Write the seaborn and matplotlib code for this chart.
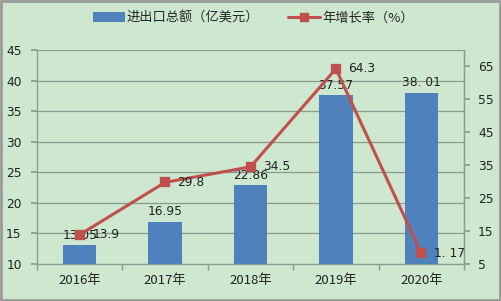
import matplotlib
matplotlib.use("Agg")
import matplotlib.pyplot as plt
import seaborn as sns
import pandas as pd
from matplotlib.patches import Rectangle
from matplotlib.lines import Line2D
from matplotlib.patches import Patch

years = ["2016年", "2017年", "2018年", "2019年", "2020年"]
trade_total = [13.05, 16.95, 22.86, 37.57, 38.01]
trade_labels = ["13.05", "16.95", "22.86", "37.57", "38. 01"]
growth_rate = [13.9, 29.8, 34.5, 64.3, 8.3]
growth_labels = ["13.9", "29.8", "34.5", "64.3", "1. 17"]
bar_name = "进出口总额（亿美元）"
line_name = "年增长率（%）"

BG = "#CDE8CF"
BLUE = "#4F81BD"
RED = "#C0504D"
GRID = "#8C9A8E"
TXT = "#222222"
FS = 8.8

sns.set_theme(style="white")
plt.rcParams["font.family"] = ["DejaVu Sans", "Noto Sans CJK SC"]

df = pd.DataFrame({"year": years, "total": trade_total, "rate": growth_rate})

fig = plt.figure(figsize=(5.02, 3.01), dpi=100)
fig.patch.set_facecolor(BG)
ax = fig.add_axes([37/502, 37/301, 427/502, 214/301])
ax.set_facecolor(BG)

sns.barplot(data=df, x="year", y="total", color=BLUE, width=0.39,
            saturation=1, ax=ax, zorder=3, edgecolor="none", linewidth=0)
ax.set_ylim(10, 45)
ax.set_yticks(range(10, 46, 5))
ax.yaxis.grid(True, color=GRID, lw=0.9)
ax.set_axisbelow(True)
ax.set_xlabel("")
ax.set_ylabel("")
ax.spines["top"].set_visible(False)
for s in ["left", "bottom", "right"]:
    ax.spines[s].set_color(GRID)
    ax.spines[s].set_linewidth(0.9)
ax.tick_params(axis="y", length=4, color=GRID, labelsize=FS, labelcolor=TXT, pad=7, left=True)
ax.tick_params(axis="x", length=0, labelsize=9.5, labelcolor=TXT, pad=7)
ax.set_xticks(range(len(years)))
ax.set_xticklabels(years, fontfamily=["Noto Sans CJK SC"])
ax.set_xticks([i + 0.5 for i in range(-1, len(years))], minor=True)
ax.tick_params(axis="x", which="minor", length=4, color=GRID, bottom=True)
ax.set_xlim(-0.5, len(years) - 0.5)

for i, (v, lab) in enumerate(zip(trade_total, trade_labels)):
    ax.text(i, v + 0.6, lab, ha="center", va="bottom", fontsize=FS, color=TXT, zorder=6)

ax2 = ax.twinx()
ax2.set_position(ax.get_position())
sns.pointplot(data=df, x="year", y="rate", color=RED, markers="s", markersize=6,
              linewidth=2.2, ax=ax2, zorder=5)
ax2.set_ylim(5, 70)
ax2.set_yticks(range(5, 66, 10))
ax2.set_xlim(-0.5, len(years) - 0.5)
ax2.set_ylabel("")
ax2.set_xlabel("")
for s in ["top", "left", "bottom"]:
    ax2.spines[s].set_visible(False)
ax2.spines["right"].set_color(GRID)
ax2.spines["right"].set_linewidth(0.9)
ax2.tick_params(axis="y", length=4, color=GRID, labelsize=FS, labelcolor=TXT, pad=6, right=True)
ax2.grid(False)

for i, (v, lab) in enumerate(zip(growth_rate, growth_labels)):
    ax2.annotate(lab, (i, v), xytext=(9, 0), textcoords="offset points",
                 ha="left", va="center", fontsize=FS, color=TXT, zorder=7)

handles = [Patch(facecolor=BLUE, edgecolor="none"),
           Line2D([], [], color=RED, lw=2.2, marker="s", markersize=6)]
fig.legend(handles, [bar_name, line_name], loc="center", bbox_to_anchor=(0.505, 0.94),
           ncol=2, frameon=False, handlelength=2.4, handletextpad=0.15,
           columnspacing=2.2, prop={"family": ["Noto Sans CJK SC"], "size": 9.5})

fig.patches.append(Rectangle((0.002, 0.003), 0.995, 0.994, transform=fig.transFigure,
                             fill=False, edgecolor="#9A9A9A", lw=2))

fig.savefig("out.png", dpi=100, facecolor=BG)
